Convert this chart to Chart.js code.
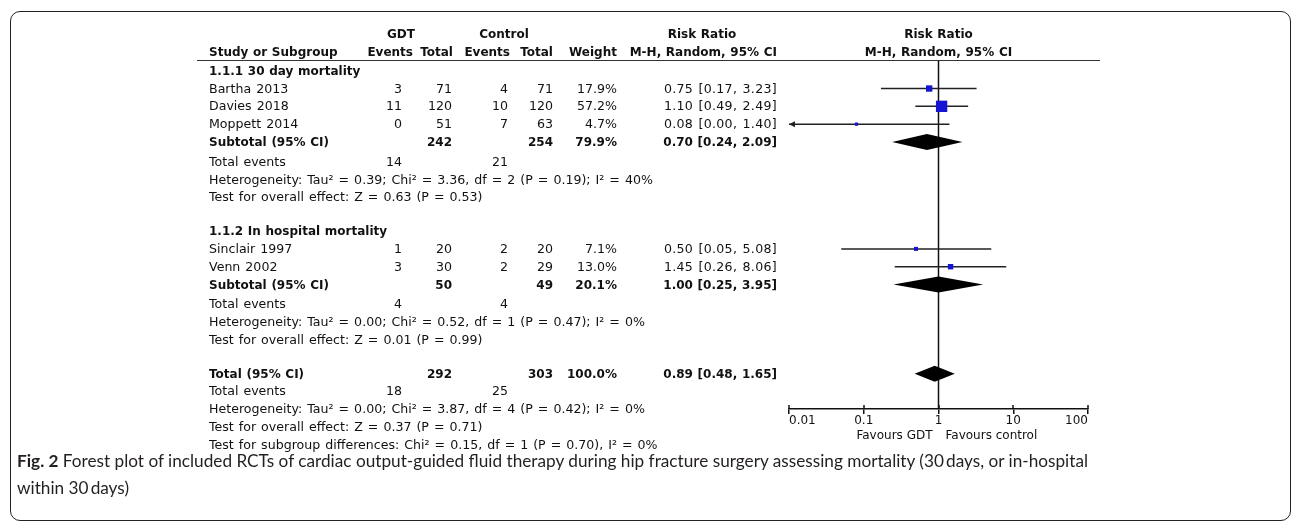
<!DOCTYPE html>
<html>
<head>
<meta charset="utf-8">
<script src="https://cdn.jsdelivr.net/npm/chart.js@4.4.0/dist/chart.umd.min.js"></script>
<style>
html,body{margin:0;padding:0;background:#fff;}
#wrap{position:relative;width:1292px;height:522px;overflow:hidden;background:#fff;}
#c{position:absolute;left:0;top:0;}
#frame{position:absolute;left:10px;top:11px;width:1281px;height:510px;border:1.5px solid #222;border-radius:10px;box-sizing:border-box;}
#hline{position:absolute;left:197px;top:60px;width:903px;height:0;border-top:1.5px solid #333;}
.t{position:absolute;font-family:'DejaVu Sans';font-size:12.6px;line-height:14px;white-space:pre;color:#111;word-spacing:1px;}
.b{font-weight:bold;font-size:12px;word-spacing:0.5px;}
.n{letter-spacing:0.3px;}
.s{font-size:12px;word-spacing:0;}
#cap{position:absolute;left:17px;top:447px;font-family:'Lato';font-size:17px;line-height:27px;color:#231f20;white-space:nowrap;transform-origin:0 0;}
#cap b{font-weight:bold;}
</style>
</head>
<body>
<div id="wrap">
  <div id="frame"></div>
  <canvas id="c" width="1292" height="522"></canvas>
  <div id="hline"></div>
  <div id="cap"><span id="l1"><b>Fig. 2</b> Forest plot of included RCTs of cardiac output-guided fluid therapy during hip fracture surgery assessing mortality (30&#8201;days, or in-hospital</span><br>within 30&#8201;days)</div>
</div>
<script>
// ---------- data ----------
const studies     = ['Bartha 2013','Davies 2018','Moppett 2014','Sinclair 1997','Venn 2002'];
const studyRows   = [1, 2, 3, 10, 11];
const gdtEvents   = [3, 11, 0, 1, 3];
const gdtTotal    = [71, 120, 51, 20, 30];
const ctrlEvents  = [4, 10, 7, 2, 2];
const ctrlTotal   = [71, 120, 63, 20, 29];
const weights     = [17.9, 57.2, 4.7, 7.1, 13.0];
const rr          = [0.75, 1.10, 0.08, 0.50, 1.45];
const ciLow       = [0.17, 0.49, 0.00, 0.05, 0.26];
const ciHigh      = [3.23, 2.49, 1.40, 5.08, 8.06];

const groupTitles = ['1.1.1 30 day mortality', '1.1.2 In hospital mortality'];
const groupRows   = [0, 9];

const pooledLabels    = ['Subtotal (95% CI)', 'Subtotal (95% CI)', 'Total (95% CI)'];
const pooledRows      = [4, 12, 17];
const pooledGdtTotal  = [242, 50, 292];
const pooledCtrlTotal = [254, 49, 303];
const pooledWeight    = [79.9, 20.1, 100.0];
const pooledRR        = [0.70, 1.00, 0.89];
const pooledLow       = [0.24, 0.25, 0.48];
const pooledHigh      = [2.09, 3.95, 1.65];

const totEventsGdt  = [14, 4, 18];
const totEventsCtrl = [21, 4, 25];
const hetTau  = [0.39, 0.00, 0.00];
const hetChi  = [3.36, 0.52, 3.87];
const hetDf   = [2, 1, 4];
const hetP    = [0.19, 0.47, 0.42];
const hetI2   = [40, 0, 0];
const effZ    = [0.63, 0.01, 0.37];
const effP    = [0.53, 0.99, 0.71];
const subgroupDiff = {chi: 0.15, df: 1, p: 0.70, i2: 0};

const xTicks      = [0.01, 0.1, 1, 10, 100];
const xTickLabels = ['0.01', '0.1', '1', '10', '100'];
const favours     = ['Favours GDT', 'Favours control'];

// ---------- layout ----------
const yMin = -0.544, yMax = 18.985;
const fmt2 = v => v.toFixed(2);
const rrText = (m, l, h) => `${fmt2(m)} [${fmt2(l)}, ${fmt2(h)}]`;

const ciDatasets = studies.map((s, i) => ({
  type: 'line',
  data: [{x: Math.max(ciLow[i], xTicks[0]), y: studyRows[i]}, {x: ciHigh[i], y: studyRows[i]}],
  borderColor: '#222', borderWidth: 1.5, pointRadius: 0, fill: false, order: 2
}));
const squares = {
  type: 'scatter',
  data: rr.map((v, i) => ({x: v, y: studyRows[i]})),
  pointStyle: 'rect',
  pointRadius: weights.map(w => 1.5 * Math.sqrt(w) / Math.SQRT2),
  backgroundColor: '#1414d2', borderWidth: 0, order: 0
};
const refLine = {
  type: 'line',
  data: [{x: 1, y: yMin}, {x: 1, y: yMax}],
  borderColor: '#111', borderWidth: 1.5, pointRadius: 0, fill: false, order: 3
};

const forestPlugin = {
  id: 'forest',
  afterDatasetsDraw(chart) {
    const {ctx, scales: {x, y}} = chart;
    ctx.save();
    ctx.fillStyle = '#000';
    pooledRR.forEach((m, i) => {
      const py = y.getPixelForValue(pooledRows[i]);
      ctx.beginPath();
      ctx.moveTo(x.getPixelForValue(pooledLow[i]), py);
      ctx.lineTo(x.getPixelForValue(m), py - 8);
      ctx.lineTo(x.getPixelForValue(pooledHigh[i]), py);
      ctx.lineTo(x.getPixelForValue(m), py + 8);
      ctx.closePath();
      ctx.fill();
    });
    ctx.fillStyle = '#222';
    ciLow.forEach((l, i) => {
      if (l < xTicks[0]) {
        const px = x.getPixelForValue(xTicks[0]);
        const py = y.getPixelForValue(studyRows[i]);
        ctx.beginPath();
        ctx.moveTo(px, py);
        ctx.lineTo(px + 6, py - 3);
        ctx.lineTo(px + 6, py + 3);
        ctx.closePath();
        ctx.fill();
      }
    });
    ctx.restore();
  },
  afterDraw(chart) {
    const {ctx, scales: {x}, chartArea} = chart;
    ctx.save();
    ctx.strokeStyle = '#111';
    ctx.lineWidth = 1.5;
    xTicks.forEach(v => {
      const px = Math.round(x.getPixelForValue(v));
      ctx.beginPath();
      ctx.moveTo(px, chartArea.bottom - 4);
      ctx.lineTo(px, chartArea.bottom);
      ctx.stroke();
    });
    ctx.restore();
  }
};

const chart = new Chart(document.getElementById('c'), {
  type: 'line',
  data: {datasets: [squares, ...ciDatasets, refLine]},
  options: {
    responsive: false, animation: false, devicePixelRatio: 1,
    layout: {padding: {left: 789, right: 204, top: 61, bottom: 0}},
    plugins: {legend: {display: false}, tooltip: {enabled: false}},
    scales: {
      x: {
        type: 'logarithmic', min: xTicks[0], max: xTicks[xTicks.length - 1], position: 'bottom',
        afterFit: s => { s.height = 113; },
        afterBuildTicks: s => { s.ticks = xTicks.map(v => ({value: v})); },
        border: {display: true, color: '#111', width: 1.5},
        grid: {display: true, drawOnChartArea: false, drawTicks: true, tickLength: 5, color: '#111', lineWidth: 1.5},
        ticks: {align: 'inner', padding: 0, maxRotation: 0, autoSkip: false, color: '#111',
                font: {family: 'DejaVu Sans', size: 12},
                callback: (v, i) => xTickLabels[i]}
      },
      y: {type: 'linear', display: false, reverse: true, min: yMin, max: yMax}
    }
  },
  plugins: [forestPlugin]
});

// ---------- table text ----------
const wrap = document.getElementById('wrap');
const Y = r => chart.scales.y.getPixelForValue(r);
function put(txt, x, y, align, cls) {
  const d = document.createElement('div');
  d.className = 't' + (cls ? ' ' + cls : '');
  d.textContent = txt;
  if (align === 'l') { d.style.left = x + 'px'; }
  else if (align === 'r') { d.style.left = (x - 400) + 'px'; d.style.width = '400px'; d.style.textAlign = 'right'; }
  else { d.style.left = (x - 200) + 'px'; d.style.width = '400px'; d.style.textAlign = 'center'; }
  d.style.top = (y - 7) + 'px';
  wrap.appendChild(d);
}
const X1 = chart.scales.x.getPixelForValue(1);
const colL = 209, cGE = 402, cGT = 452, cCE = 508, cCT = 553, cW = 617, cRR = 777;

const h1 = Y(-2.05), h2 = Y(-1.04);
put('GDT', 401, h1, 'c', 'b');
put('Control', 504, h1, 'c', 'b');
put('Risk Ratio', 702, h1, 'c', 'b');
put('Risk Ratio', X1, h1, 'c', 'b');
put('Study or Subgroup', colL, h2, 'l', 'b');
put('Events', 413, h2, 'r', 'b');
put('Total', 453, h2, 'r', 'b');
put('Events', 510, h2, 'r', 'b');
put('Total', 553, h2, 'r', 'b');
put('Weight', 617, h2, 'r', 'b');
put('M-H, Random, 95% CI', 777, h2, 'r', 'b');
put('M-H, Random, 95% CI', X1, h2, 'c', 'b');

groupTitles.forEach((g, i) => put(g, colL, Y(groupRows[i]), 'l', 'b'));
studies.forEach((s, i) => {
  const y = Y(studyRows[i]);
  put(s, colL, y, 'l');
  put(String(gdtEvents[i]), cGE, y, 'r');
  put(String(gdtTotal[i]), cGT, y, 'r');
  put(String(ctrlEvents[i]), cCE, y, 'r');
  put(String(ctrlTotal[i]), cCT, y, 'r');
  put(weights[i].toFixed(1) + '%', cW, y, 'r');
  put(rrText(rr[i], ciLow[i], ciHigh[i]), cRR, y, 'r', 'n');
});
pooledLabels.forEach((lab, i) => {
  const r = pooledRows[i];
  const y = Y(r);
  put(lab, colL, y, 'l', 'b');
  put(String(pooledGdtTotal[i]), cGT, y, 'r', 'b');
  put(String(pooledCtrlTotal[i]), cCT, y, 'r', 'b');
  put(pooledWeight[i].toFixed(1) + '%', cW, y, 'r', 'b');
  put(rrText(pooledRR[i], pooledLow[i], pooledHigh[i]), cRR, y, 'r', 'b');
  const off = i < 2 ? 2 : 0;
  const ye = Y(r + 1) + off, yh = Y(r + 2) + off, yz = Y(r + 3) + off;
  put('Total events', colL, ye, 'l');
  put(String(totEventsGdt[i]), cGE, ye, 'r');
  put(String(totEventsCtrl[i]), cCE, ye, 'r');
  put(`Heterogeneity: Tau\u00B2 = ${fmt2(hetTau[i])}; Chi\u00B2 = ${fmt2(hetChi[i])}, df = ${hetDf[i]} (P = ${fmt2(hetP[i])}); I\u00B2 = ${hetI2[i]}%`, colL, yh, 'l');
  put(`Test for overall effect: Z = ${fmt2(effZ[i])} (P = ${fmt2(effP[i])})`, colL, yz, 'l');
});
put(`Test for subgroup differences: Chi\u00B2 = ${fmt2(subgroupDiff.chi)}, df = ${subgroupDiff.df} (P = ${fmt2(subgroupDiff.p)}), I\u00B2 = ${subgroupDiff.i2}%`, colL, Y(21), 'l');

put(favours[0], X1 - 6, 435, 'r', 's');
put(favours[1], X1 + 7, 435, 'l', 's');

const l1 = document.getElementById('l1');
const w1 = l1.getBoundingClientRect().width;
document.getElementById('cap').style.transform = `scaleX(${1071 / w1})`;
</script>
</body>
</html>
